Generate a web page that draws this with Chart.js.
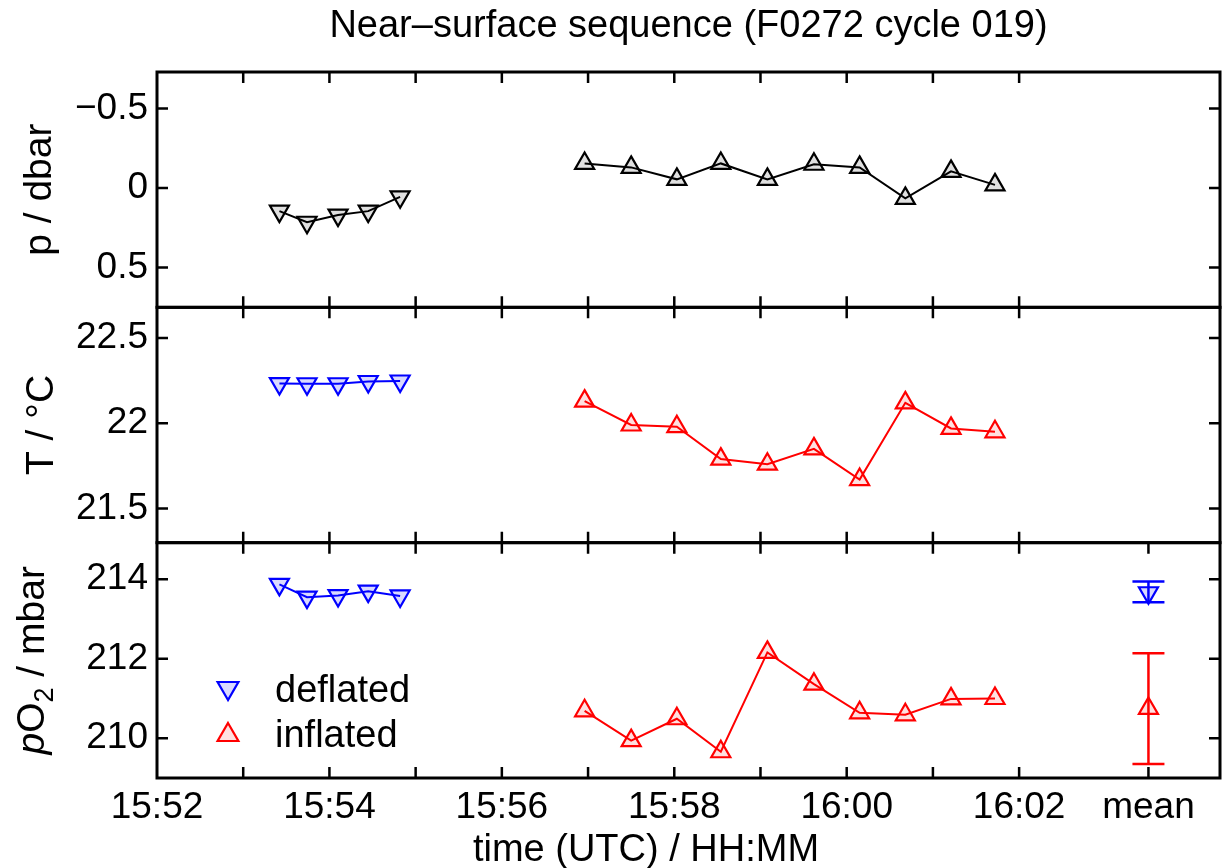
<!DOCTYPE html>
<html>
<head>
<meta charset="utf-8">
<title>Near-surface sequence</title>
<script src="https://cdn.jsdelivr.net/npm/chart.js@4/dist/chart.umd.min.js"></script>
<style>
  html, body { margin: 0; padding: 0; background: #fff; overflow: hidden; }
  #wrap { width: 1226px; height: 868px; }
  canvas { display: block; }
</style>
</head>
<body>
<div id="wrap"><canvas id="nearSurface" width="1226" height="868"></canvas></div>
<script>
// values; time is minutes after 15:52 UTC
const timeDeflated = [1.42, 1.74, 2.10, 2.45, 2.82];
const timeInflated = [4.96, 5.50, 6.03, 6.54, 7.08, 7.62, 8.15, 8.68, 9.21, 9.72];
const timeMean = 11.5;

const pressureDeflated = [0.145, 0.215, 0.17, 0.145, 0.055];
const pressureInflated = [-0.155, -0.13, -0.055, -0.155, -0.055, -0.15, -0.13, 0.065, -0.105, -0.02];

const tempDeflated = [22.233, 22.232, 22.232, 22.245, 22.248];
const tempInflated = [22.13, 21.99, 21.98, 21.79, 21.76, 21.85, 21.67, 22.12, 21.97, 21.95];

const oxyDeflated = [213.87, 213.55, 213.59, 213.70, 213.58];
const oxyInflated = [210.69, 209.94, 210.49, 209.66, 212.16, 211.36, 210.64, 210.59, 210.99, 211.00];

// mean and error bar ends (low, high)
const oxyMeanDeflated = 213.66;
const oxyErrDeflated = [213.42, 213.94];
const oxyMeanInflated = 210.75;
const oxyErrInflated = [209.35, 212.14];

// axes
const timeLabelValues = [0, 2, 4, 6, 8, 10, 11.5];
const timeLabelTexts = ['15:52', '15:54', '15:56', '15:58', '16:00', '16:02', 'mean'];
const minuteTicks = [1, 2, 3, 4, 5, 6, 7, 8, 9, 10];
const pressureTicks = [-0.5, 0, 0.5];
const tempTicks = [21.5, 22, 22.5];
const oxyTicks = [210, 212, 214];

const seriesNames = ['deflated', 'inflated'];
const titleText = 'Near\u2013surface sequence (F0272 cycle 019)';
const xTitle = 'time (UTC) / HH:MM';

const FONT = '"Liberation Sans", Arial, Helvetica, sans-serif';
const BLUE = '#0000ff';
const RED = '#ff0000';
const BLACK = '#000000';

Chart.defaults.font.family = FONT;
Chart.defaults.color = BLACK;

function pts(xs, ys) {
    return xs.map((x, i) => ({ x: x, y: ys[i] }));
}

function series(label, data, axis, color, fill, down) {
    return {
        label: label,
        data: data,
        yAxisID: axis,
        showLine: true,
        borderColor: color,
        borderWidth: 2,
        pointStyle: 'triangle',
        pointRotation: down ? 180 : 0,
        pointRadius: 11,
        pointHoverRadius: 11,
        pointBorderWidth: 2.2,
        pointBorderColor: color,
        pointBackgroundColor: fill,
        clip: false
    };
}

function errorBar(x, ends, color) {
    return {
        label: 'err',
        data: [{ x: x, y: ends[0] }, { x: x, y: ends[1] }],
        yAxisID: 'yO',
        showLine: true,
        borderColor: color,
        borderWidth: 2.5,
        pointStyle: 'line',
        pointRadius: 16,
        pointHoverRadius: 16,
        pointBorderWidth: 2.5,
        pointBorderColor: color,
        clip: false
    };
}

function fixedTicks(values) {
    return function(scale) {
        scale.ticks = values.map(v => ({ value: v }));
    };
}

function yScale(min, max, ticks, fmt, reverse) {
    return {
        type: 'linear',
        position: 'left',
        stack: 'panels',
        stackWeight: 1,
        min: min,
        max: max,
        reverse: !!reverse,
        afterBuildTicks: fixedTicks(ticks),
        afterFit: function(scale) { scale.width = 157; },
        grid: { display: false, drawTicks: false },
        border: { display: false },
        ticks: {
            autoSkip: false,
            padding: 9,
            color: BLACK,
            font: { size: 37 },
            callback: fmt
        }
    };
}

// frame and inward tick marks around each panel
const framePlugin = {
    id: 'frames',
    afterDatasetsDraw(chart) {
        const ctx = chart.ctx;
        const area = chart.chartArea;
        const xs = chart.scales.x;
        const panels = [
            { id: 'yP', ticks: pressureTicks, xt: minuteTicks },
            { id: 'yT', ticks: tempTicks, xt: minuteTicks },
            { id: 'yO', ticks: oxyTicks, xt: minuteTicks.concat([timeMean]) }
        ];
        const len = 11;
        ctx.save();
        ctx.strokeStyle = BLACK;
        ctx.lineCap = 'butt';
        panels.forEach(p => {
            const s = chart.scales[p.id];
            ctx.lineWidth = 2.5;
            ctx.beginPath();
            p.xt.forEach(v => {
                const px = xs.getPixelForValue(v);
                ctx.moveTo(px, s.top); ctx.lineTo(px, s.top + len);
                ctx.moveTo(px, s.bottom); ctx.lineTo(px, s.bottom - len);
            });
            p.ticks.forEach(v => {
                const py = s.getPixelForValue(v);
                ctx.moveTo(area.left, py); ctx.lineTo(area.left + len, py);
                ctx.moveTo(area.right, py); ctx.lineTo(area.right - len, py);
            });
            ctx.stroke();
            ctx.lineWidth = 3;
            ctx.strokeRect(area.left, s.top, area.right - area.left, s.bottom - s.top);
        });
        ctx.restore();
    }
};

// axis titles and the legend inside the lower panel
const labelPlugin = {
    id: 'labels',
    afterDraw(chart) {
        const ctx = chart.ctx;
        ctx.save();
        ctx.fillStyle = BLACK;
        ctx.textBaseline = 'alphabetic';

        ctx.font = '38px ' + FONT;
        ctx.textAlign = 'center';
        ctx.fillText(xTitle, 646, 861);

        function vertical(x, scale, parts) {
            const yc = (scale.top + scale.bottom) / 2;
            ctx.save();
            ctx.translate(x, yc);
            ctx.rotate(-Math.PI / 2);
            ctx.textAlign = 'left';
            let total = 0;
            parts.forEach(pt => { ctx.font = pt.font; total += ctx.measureText(pt.text).width; });
            let cx = -total / 2;
            parts.forEach(pt => {
                ctx.font = pt.font;
                ctx.fillText(pt.text, cx, pt.dy || 0);
                cx += ctx.measureText(pt.text).width;
            });
            ctx.restore();
        }
        const f = '39px ' + FONT;
        vertical(51, chart.scales.yP, [{ text: 'p / dbar', font: f }]);
        vertical(53, chart.scales.yT, [{ text: 'T / \u00b0C', font: f }]);
        vertical(44, chart.scales.yO, [
            { text: 'p', font: 'italic ' + f },
            { text: 'O', font: f },
            { text: '2', font: '27px ' + FONT, dy: 9 },
            { text: ' / mbar', font: f }
        ]);

        // legend
        const entries = [
            { ds: chart.data.datasets[4], y: 688, ty: 702 },
            { ds: chart.data.datasets[5], y: 735, ty: 747 }
        ];
        entries.forEach((e, i) => {
            const ds = e.ds;
            ctx.lineWidth = 2.2;
            ctx.strokeStyle = ds.pointBorderColor;
            ctx.fillStyle = ds.pointBackgroundColor;
            Chart.helpers.drawPoint(ctx, {
                pointStyle: 'triangle',
                rotation: ds.pointRotation,
                radius: 12,
                borderWidth: 2.2
            }, 228, e.y);
            ctx.fillStyle = BLACK;
            ctx.font = '38px ' + FONT;
            ctx.textAlign = 'left';
            ctx.fillText(seriesNames[i], 275, e.ty);
        });
        ctx.restore();
    }
};

const chart = new Chart(document.getElementById('nearSurface'), {
    type: 'scatter',
    data: {
        datasets: [
            series(seriesNames[0], pts(timeDeflated, pressureDeflated), 'yP', BLACK, 'rgba(0,0,0,0.12)', true),
            series(seriesNames[1], pts(timeInflated, pressureInflated), 'yP', BLACK, 'rgba(0,0,0,0.12)', false),
            series(seriesNames[0], pts(timeDeflated, tempDeflated), 'yT', BLUE, 'rgba(0,0,255,0.15)', true),
            series(seriesNames[1], pts(timeInflated, tempInflated), 'yT', RED, 'rgba(255,0,0,0.12)', false),
            series(seriesNames[0], pts(timeDeflated, oxyDeflated), 'yO', BLUE, 'rgba(0,0,255,0.15)', true),
            series(seriesNames[1], pts(timeInflated, oxyInflated), 'yO', RED, 'rgba(255,0,0,0.12)', false),
            errorBar(timeMean, oxyErrDeflated, BLUE),
            errorBar(timeMean, oxyErrInflated, RED),
            series('mean deflated', [{ x: timeMean, y: oxyMeanDeflated }], 'yO', BLUE, 'rgba(0,0,255,0.15)', true),
            series('mean inflated', [{ x: timeMean, y: oxyMeanInflated }], 'yO', RED, 'rgba(255,0,0,0.12)', false)
        ]
    },
    options: {
        responsive: false,
        devicePixelRatio: 1,
        animation: false,
        events: [],
        layout: { autoPadding: false, padding: { left: 0, right: 6, top: 0, bottom: 0 } },
        plugins: {
            legend: { display: false },
            tooltip: { enabled: false },
            title: {
                display: true,
                text: titleText,
                fullSize: false,
                color: BLACK,
                font: { size: 38, weight: 'normal', lineHeight: 1.2 },
                padding: { top: 4, bottom: 22.4 }
            }
        },
        scales: {
            x: {
                type: 'linear',
                position: 'bottom',
                min: 0,
                max: 12.33,
                afterBuildTicks: fixedTicks(timeLabelValues),
                afterFit: function(scale) { scale.height = 90; },
                grid: { display: false, drawTicks: false },
                border: { display: false },
                ticks: {
                    autoSkip: false,
                    maxRotation: 0,
                    padding: 8,
                    color: BLACK,
                    font: { size: 37 },
                    callback: (v, i) => timeLabelTexts[i]
                }
            },
            yO: yScale(209.0, 214.92, oxyTicks, v => String(v)),
            yT: yScale(21.3, 22.68, tempTicks, v => String(v)),
            yP: yScale(-0.73, 0.75, pressureTicks, v => v < 0 ? '\u2212' + Math.abs(v) : String(v), true)
        }
    },
    plugins: [framePlugin, labelPlugin]
});
</script>
</body>
</html>
